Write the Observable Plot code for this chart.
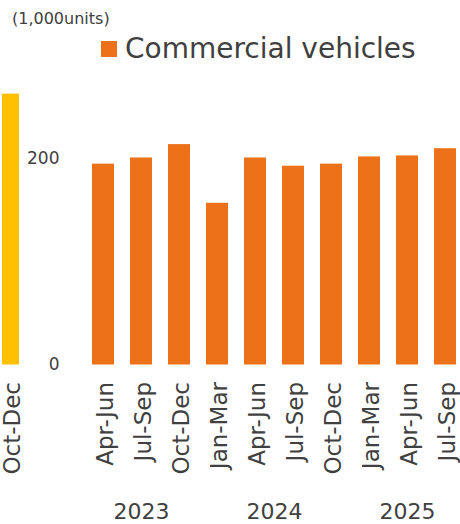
<!DOCTYPE html>
<html><head><meta charset="utf-8">
<script src="https://cdn.jsdelivr.net/npm/d3@7"></script>
<script src="https://cdn.jsdelivr.net/npm/@observablehq/plot@0.6"></script>
<style>
body{margin:0;background:#fff;font-family:"DejaVu Sans",Verdana,sans-serif;color:#404040}
#wrap{position:relative;width:460px;height:524px;overflow:hidden}
#unit{position:absolute;left:12px;top:10px;font-size:16px;line-height:18px}
#legend{position:absolute;left:101px;top:31px;font-size:28px;line-height:36px;display:flex;align-items:center}
#legend .sw{display:inline-block;width:16px;height:16px;background:#EC7118;margin-right:8px}
#plots{position:absolute;left:0;top:70px;width:460px;height:454px}
#plots svg{position:absolute;left:0;top:0;overflow:visible}
</style></head>
<body>
<div id="wrap">
  <div id="unit">(1,000units)</div>
  <div id="legend"><span class="sw"></span><span>Commercial vehicles</span></div>
  <div id="plots"></div>
</div>
<script>
// Data
const prevLabels = ["Oct-Dec"];
const prevValues = [263];
const quarters = ["Apr-Jun","Jul-Sep","Oct-Dec","Jan-Mar","Apr-Jun","Jul-Sep","Oct-Dec","Jan-Mar","Apr-Jun","Jul-Sep"];
const quarterYears = ["2023","2023","2023","2024","2024","2024","2024","2025","2025","2025"];
const values = [195,201,214,157,201,193,195,202,203,210];
const yearLabels = ["2023","2024","2025"];
const yTicks = [0,200];

const orange = "#EC7118";
const yellow = "#FFC000";
const textColor = "#404040";
const H = 454;
const yDomain = [0,280];
const mTop = 6.1, mBottom = 159.5;
const font = "DejaVu Sans, Verdana, sans-serif";

const keys = quarters.map((q,i) => quarterYears[i] + " " + q);
const mainData = keys.map((k,i) => ({key:k, value:values[i]}));
const prevData = prevLabels.map((l,i) => ({key:l, value:prevValues[i]}));

// year label anchors: middle category of each year group
const yearData = yearLabels.map(y => {
  const ks = keys.filter((k,i) => quarterYears[i] === y);
  const n = ks.length;
  return {year:y, key:ks[Math.floor((n-1)/2)], even: n % 2 === 0};
});

const main = Plot.plot({
  width:460, height:H,
  marginLeft:92, marginRight:4, marginTop:mTop, marginBottom:mBottom,
  style:{fontFamily:font, color:textColor, background:"transparent"},
  x:{domain:keys, range:[76,472], padding:0.42},
  y:{domain:yDomain, axis:null},
  marks:[
    Plot.barY(mainData, {x:"key", y:"value", fill:orange}),
    Plot.text(yTicks, {y:d => d, text:d => String(d), frameAnchor:"left", textAnchor:"end", lineAnchor:"middle", dx:-33, fontSize:17, fill:textColor}),
    Plot.axisX({tickSize:0, tickPadding:17, tickRotate:-90, fontSize:23, dx:2, label:null, tickFormat:d => d.split(" ")[1]}),
    Plot.text(yearData.filter(d => !d.even), {x:"key", text:"year", frameAnchor:"bottom", lineAnchor:"middle", dy:146.5, fontSize:22, fill:textColor}),
    Plot.text(yearData.filter(d => d.even), {x:"key", text:"year", frameAnchor:"bottom", lineAnchor:"middle", dy:146.5, dx:19, fontSize:22, fill:textColor})
  ]
});

const prev = Plot.plot({
  width:40, height:H,
  marginLeft:0, marginRight:0, marginTop:mTop, marginBottom:mBottom,
  style:{fontFamily:font, color:textColor, background:"transparent"},
  x:{domain:prevLabels, range:[2,19], padding:0},
  y:{domain:yDomain, axis:null},
  marks:[
    Plot.barY(prevData, {x:"key", y:"value", fill:yellow}),
    Plot.axisX({tickSize:0, tickPadding:17, tickRotate:-90, fontSize:23, dx:2, label:null})
  ]
});

document.getElementById("plots").append(prev, main);
</script>
</body></html>
